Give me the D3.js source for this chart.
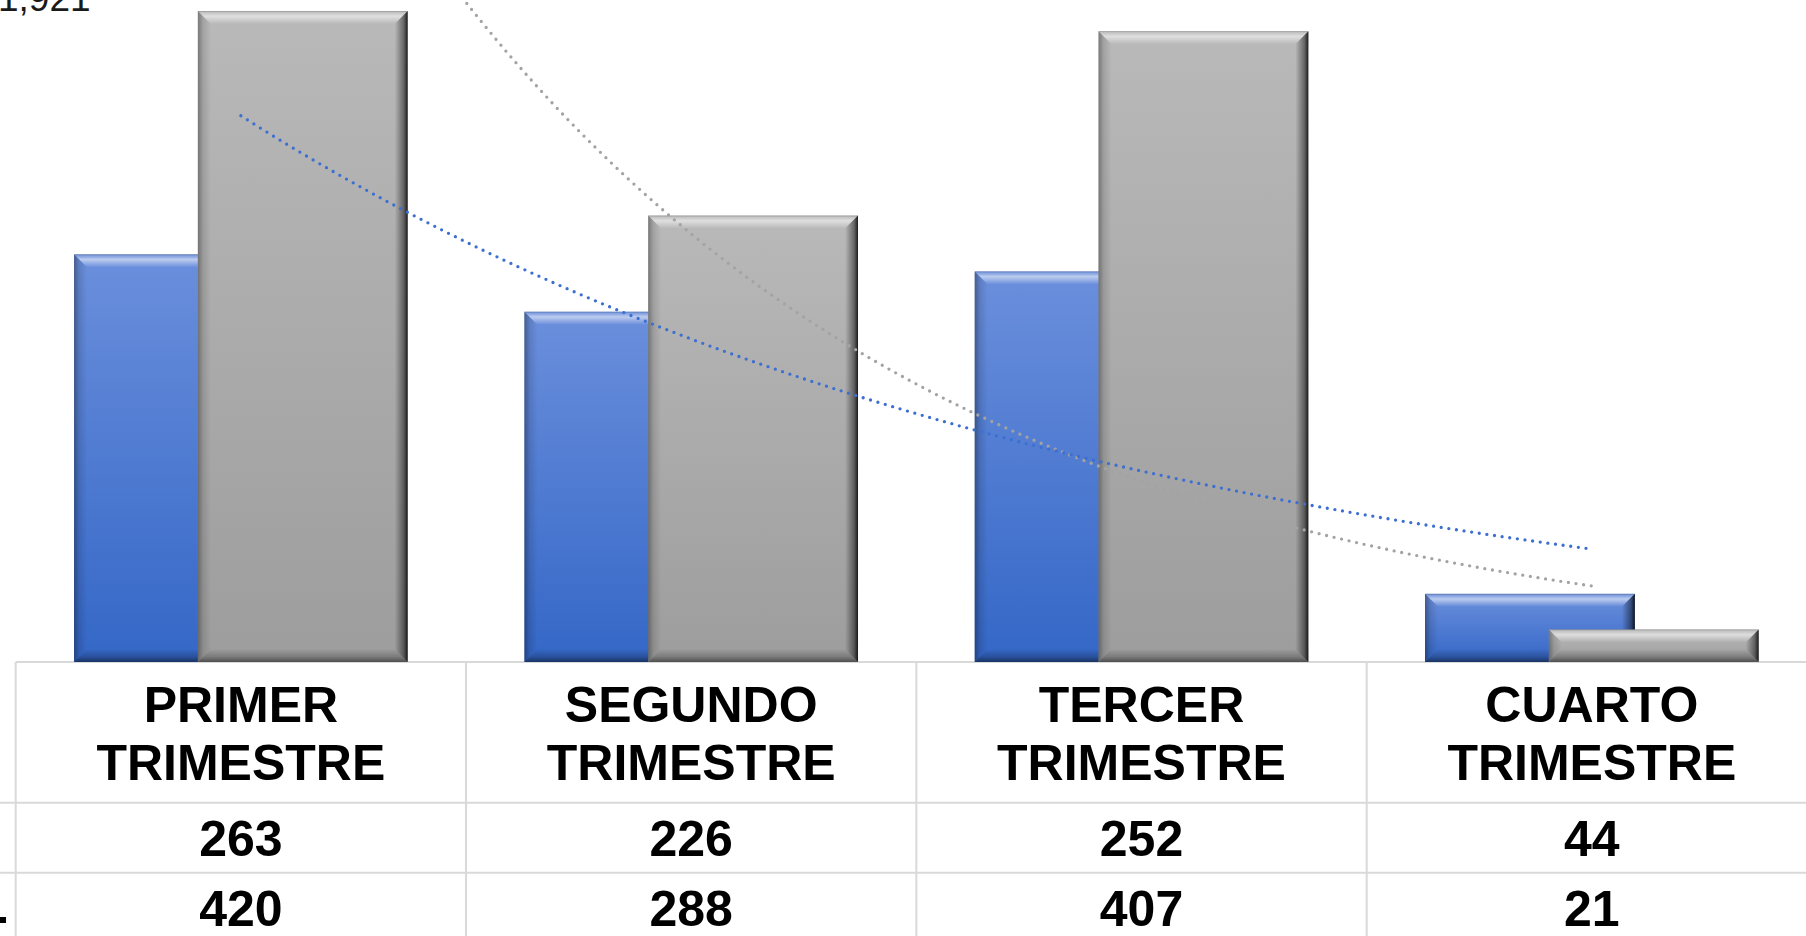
<!DOCTYPE html>
<html>
<head>
<meta charset="utf-8">
<script src="https://cdn.jsdelivr.net/npm/d3@7"></script>
<style>
  html, body { margin: 0; padding: 0; background: #fff; overflow: hidden; }
  svg { display: block; }
  .lbl { font-family: "Liberation Sans", Arial, sans-serif; font-weight: bold; fill: #000; }
</style>
</head>
<body>
<svg id="chart" width="1806" height="936"></svg>
<script>
// chart values
var categories = ["PRIMER TRIMESTRE", "SEGUNDO TRIMESTRE", "TERCER TRIMESTRE", "CUARTO TRIMESTRE"];
var serieAzul = [263, 226, 252, 44];
var serieGris = [420, 288, 407, 21];
var totalLabel = "1,921";

var W = 1806, H = 936;
var svg = d3.select("#chart");
var defs = svg.append("defs");

// table geometry (the plot sits right on top of it)
var tableLeft = 15.7, tableRight = 1817, baseY = 662;
var rowLines = [baseY, 802.7, 872.7];

var x = d3.scaleBand().domain(categories).range([tableLeft, tableRight]).padding(0);
var y = d3.scaleLinear().domain([0, 450]).range([baseY, baseY - 450 * 1.55]);

var barW = x.bandwidth() * 0.466;
var shift = barW * 0.59;          // second bar overlaps the first one
var groupW = barW + shift;

var series = [
	{ key: "azul", values: serieAzul, top: "#6b8fdc", bottom: "#3467c7", trend: "#3d6fd0", dx: 0 },
	{ key: "gris", values: serieGris, top: "#b9b9b9", bottom: "#9d9d9d", trend: "#a3a3a3", dx: shift }
];

// body gradients
series.forEach(function(s) {
	var g = defs.append("linearGradient").attr("id", "body-" + s.key)
		.attr("x1", 0).attr("y1", 0).attr("x2", 0).attr("y2", 1);
	g.append("stop").attr("offset", 0).attr("stop-color", s.top);
	g.append("stop").attr("offset", 1).attr("stop-color", s.bottom);
});

// bevel gradients (edge -> inside)
function bevelGrad(id, dir, stops) {
	var c = { top: [0, 0, 0, 1], bottom: [0, 1, 0, 0], left: [0, 0, 1, 0], right: [1, 0, 0, 0] }[dir];
	var g = defs.append("linearGradient").attr("id", id)
		.attr("x1", c[0]).attr("y1", c[1]).attr("x2", c[2]).attr("y2", c[3]);
	stops.forEach(function(st) {
		g.append("stop").attr("offset", st[0]).attr("stop-color", st[1]).attr("stop-opacity", st[2]);
	});
}
bevelGrad("bv-top", "top", [[0, "#000", 0.25], [0.12, "#fff", 0.15], [0.4, "#fff", 0.55], [1, "#fff", 0]]);
bevelGrad("bv-left", "left", [[0, "#000", 0.35], [0.4, "#000", 0.12], [1, "#000", 0]]);
bevelGrad("bv-right", "right", [[0, "#000", 0.85], [0.3, "#000", 0.45], [1, "#000", 0]]);
bevelGrad("bv-bottom", "bottom", [[0, "#000", 0.5], [0.4, "#000", 0.22], [1, "#000", 0]]);

function bevels(d) {
	var b = Math.min(13, d.h / 2, d.w / 2);
	var x0 = d.x, y0 = d.y, x1 = d.x + d.w, y1 = d.y + d.h;
	return [
		{ k: "top", p: [[x0, y0], [x1, y0], [x1 - b, y0 + b], [x0 + b, y0 + b]] },
		{ k: "left", p: [[x0, y0], [x0 + b, y0 + b], [x0 + b, y1 - b], [x0, y1]] },
		{ k: "right", p: [[x1, y0], [x1 - b, y0 + b], [x1 - b, y1 - b], [x1, y1]] },
		{ k: "bottom", p: [[x0, y1], [x1, y1], [x1 - b, y1 - b], [x0 + b, y1 - b]] }
	];
}

// table grid
var grid = svg.append("g").attr("stroke", "#d9d9d9").attr("stroke-width", 2);
rowLines.forEach(function(ly, i) {
	grid.append("line").attr("x1", i === 0 ? tableLeft : 0).attr("x2", W)
		.attr("y1", ly).attr("y2", ly);
});
categories.forEach(function(c) {
	grid.append("line").attr("x1", x(c)).attr("x2", x(c)).attr("y1", baseY).attr("y2", H);
});

// bars
series.forEach(function(s) {
	var bars = s.values.map(function(v, i) {
		var cx = x(categories[i]) + x.bandwidth() / 2;
		return { x: cx - groupW / 2 + s.dx, y: y(v), w: barW, h: y(0) - y(v) };
	});
	var g = svg.append("g").attr("class", "bars-" + s.key);
	var bar = g.selectAll("g").data(bars).enter().append("g");
	bar.append("rect")
		.attr("x", function(d) { return d.x; })
		.attr("y", function(d) { return d.y; })
		.attr("width", function(d) { return d.w; })
		.attr("height", function(d) { return d.h; })
		.attr("fill", "url(#body-" + s.key + ")");
	bar.selectAll("polygon").data(bevels).enter().append("polygon")
		.attr("points", function(d) { return d.p.map(function(p) { return p.join(","); }).join(" "); })
		.attr("fill", function(d) { return "url(#bv-" + d.k + ")"; });
});

// exponential trendlines, fitted like excel does (least squares on ln(y))
var xi = d3.scaleLinear().domain([1, categories.length])
	.range([x(categories[0]) + x.bandwidth() / 2, x(categories[categories.length - 1]) + x.bandwidth() / 2]);

function expFit(vals) {
	var xs = vals.map(function(v, i) { return i + 1; });
	var ls = vals.map(function(v) { return Math.log(v); });
	var mx = d3.mean(xs), ml = d3.mean(ls);
	var num = d3.sum(xs, function(xv, i) { return (xv - mx) * (ls[i] - ml); });
	var den = d3.sum(xs, function(xv) { return (xv - mx) * (xv - mx); });
	var bb = num / den, aa = ml - bb * mx;
	return function(t) { return Math.exp(aa + bb * t); };
}

var line = d3.line().x(function(d) { return xi(d[0]); }).y(function(d) { return y(d[1]); });
series.slice().reverse().forEach(function(s) {
	var f = expFit(s.values);
	var pts = d3.range(1, categories.length + 0.001, 0.02).map(function(t) { return [t, f(t)]; });
	svg.append("path").datum(pts)
		.attr("d", line)
		.attr("fill", "none")
		.attr("stroke", s.trend)
		.attr("stroke-width", 3.3)
		.attr("stroke-linecap", "round")
		.attr("stroke-dasharray", "0 7.7");
});

// category labels
var lbl = svg.append("g");
categories.forEach(function(c, i) {
	var cx = x(c) + x.bandwidth() / 2;
	var parts = c.split(" ");
	var t = lbl.append("text").attr("class", "lbl").attr("text-anchor", "middle").attr("font-size", 50);
	t.append("tspan").attr("x", cx).attr("y", 721.7).text(parts[0]);
	t.append("tspan").attr("x", cx).attr("y", 779.5).text(parts[1]);
	lbl.append("text").attr("class", "lbl").attr("text-anchor", "middle").attr("font-size", 50)
		.attr("x", cx).attr("y", 856).text(serieAzul[i]);
	lbl.append("text").attr("class", "lbl").attr("text-anchor", "middle").attr("font-size", 50)
		.attr("x", cx).attr("y", 926).text(serieGris[i]);
});

// leftovers of the cut-off legend column and top label
svg.append("rect").attr("x", 0).attr("y", 917).attr("width", 6).attr("height", 6).attr("fill", "#000");
svg.append("text").attr("x", -2).attr("y", 11)
	.attr("font-family", "\"Liberation Sans\", Arial, sans-serif")
	.attr("font-size", 37).attr("fill", "#1a1a1a")
	.text(totalLabel);
</script>
</body>
</html>
